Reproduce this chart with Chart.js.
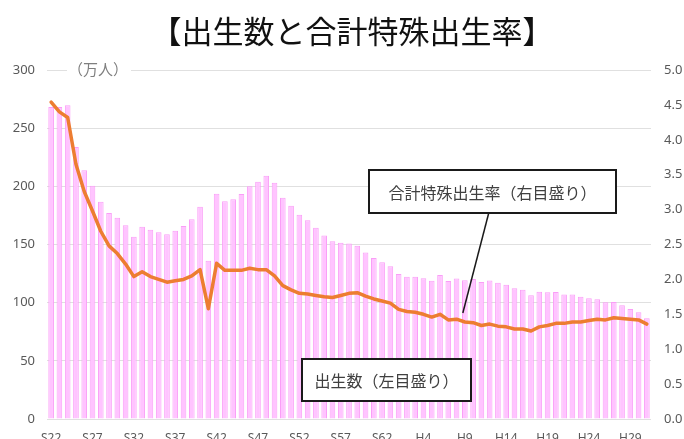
<!DOCTYPE html>
<html>
<head>
<meta charset="utf-8">
<script src="https://cdn.jsdelivr.net/npm/chart.js@4"></script>
<style>
  html, body { margin: 0; padding: 0; background: #fff; overflow: hidden; }
  canvas { display: block; }
</style>
</head>
<body>
<canvas id="birthChart" width="684" height="450"></canvas>
<script>
// 年次 (S22 = 1947 ... R1 = 2019)
const yearLabels = [
  'S22','S23','S24','S25','S26','S27','S28','S29','S30','S31',
  'S32','S33','S34','S35','S36','S37','S38','S39','S40','S41',
  'S42','S43','S44','S45','S46','S47','S48','S49','S50','S51',
  'S52','S53','S54','S55','S56','S57','S58','S59','S60','S61',
  'S62','S63','H1','H2','H3','H4','H5','H6','H7','H8',
  'H9','H10','H11','H12','H13','H14','H15','H16','H17','H18',
  'H19','H20','H21','H22','H23','H24','H25','H26','H27','H28',
  'H29','H30','R1'
];

// 出生数（万人）
const births = [
  268.2, 268.2, 269.7, 233.8, 213.8, 200.5, 186.8, 177.0, 173.1, 166.5,
  156.7, 165.3, 162.6, 160.6, 158.9, 161.9, 166.0, 171.7, 182.4, 136.1,
  193.6, 187.2, 188.9, 193.4, 200.1, 203.9, 209.2, 203.0, 190.1, 183.3,
  175.5, 170.9, 164.3, 157.7, 152.9, 151.5, 150.9, 149.0, 143.2, 138.3,
  134.7, 131.4, 124.7, 122.2, 122.3, 120.9, 118.8, 123.8, 118.7, 120.7,
  119.2, 120.3, 117.8, 119.1, 117.1, 115.4, 112.4, 111.1, 106.3, 109.3,
  109.0, 109.1, 107.0, 107.1, 105.1, 103.7, 103.0, 100.4, 100.6, 97.7,
  94.6, 91.8, 86.5
];

// 合計特殊出生率
const fertility = [
  4.54, 4.40, 4.32, 3.65, 3.26, 2.98, 2.69, 2.48, 2.37, 2.22,
  2.04, 2.11, 2.04, 2.00, 1.96, 1.98, 2.00, 2.05, 2.14, 1.58,
  2.23, 2.13, 2.13, 2.13, 2.16, 2.14, 2.14, 2.05, 1.91, 1.85,
  1.80, 1.79, 1.77, 1.75, 1.74, 1.77, 1.80, 1.81, 1.76, 1.72,
  1.69, 1.66, 1.57, 1.54, 1.53, 1.50, 1.46, 1.50, 1.42, 1.43,
  1.39, 1.38, 1.34, 1.36, 1.33, 1.32, 1.29, 1.29, 1.26, 1.32,
  1.34, 1.37, 1.37, 1.39, 1.39, 1.41, 1.43, 1.42, 1.45, 1.44,
  1.43, 1.42, 1.36
];

const titleText = '【出生数と合計特殊出生率】';
const unitText = '（万人）';
const rateNote = '合計特殊出生率（右目盛り）';
const birthNote = '出生数（左目盛り）';

const jpFont = '"Noto Sans CJK JP", "Noto Sans", sans-serif';
const tickColor = '#595959';

function drawBox(ctx, x, y, w, h, text) {
  ctx.save();
  ctx.fillStyle = '#fff';
  ctx.fillRect(x, y, w, h);
  ctx.lineWidth = 2;
  ctx.strokeStyle = '#1a1a1a';
  ctx.strokeRect(x, y, w, h);
  ctx.fillStyle = '#404040';
  ctx.font = '16px ' + jpFont;
  ctx.textAlign = 'center';
  ctx.textBaseline = 'middle';
  ctx.fillText(text, x + w / 2, y + h / 2 + 1);
  ctx.restore();
}

const notesPlugin = {
  id: 'notes',
  afterDraw(chart) {
    const ctx = chart.ctx;
    const area = chart.chartArea;
    const xs = chart.scales.x;
    const yr = chart.scales.yRate;

    // title
    ctx.save();
    ctx.fillStyle = '#111';
    ctx.font = '31px ' + jpFont;
    ctx.textAlign = 'center';
    ctx.textBaseline = 'middle';
    ctx.fillText(titleText, 352, 31);

    // unit label over the top gridline
    ctx.font = '15px ' + jpFont;
    const uw = ctx.measureText(unitText).width;
    ctx.fillStyle = '#fff';
    ctx.fillRect(area.left + 20, area.top - 9, uw + 4, 18);
    ctx.fillStyle = '#7f7f7f';
    ctx.textAlign = 'left';
    ctx.fillText(unitText, area.left + 21, area.top - 1);
    ctx.restore();

    // pointer from the rate note to the H9 point
    const tipIdx = yearLabels.indexOf('H9');
    const tipX = xs.getPixelForValue(tipIdx) - 2;
    const tipY = yr.getPixelForValue(fertility[tipIdx]) - 9;
    ctx.save();
    ctx.strokeStyle = '#1a1a1a';
    ctx.lineWidth = 1.5;
    ctx.beginPath();
    ctx.moveTo(489, 212);
    ctx.lineTo(tipX, tipY);
    ctx.stroke();
    ctx.restore();

    drawBox(ctx, 369, 170, 247, 43, rateNote);
    drawBox(ctx, 302, 359, 169, 42, birthNote);
  }
};

const ctx = document.getElementById('birthChart').getContext('2d');

const birthChart = new Chart(ctx, {
  data: {
    labels: yearLabels,
    datasets: [
      {
        type: 'line',
        label: '合計特殊出生率',
        data: fertility,
        yAxisID: 'yRate',
        borderColor: '#ED7D31',
        borderWidth: 3.5,
        borderJoinStyle: 'round',
        borderCapStyle: 'round',
        pointRadius: 0,
        tension: 0,
        fill: false,
        order: 0
      },
      {
        type: 'bar',
        label: '出生数',
        data: births,
        yAxisID: 'yBirth',
        backgroundColor: '#FFC4FF',
        borderColor: '#FA9EF7',
        borderWidth: 1,
        categoryPercentage: 1,
        barPercentage: 0.68,
        order: 1
      }
    ]
  },
  options: {
    responsive: false,
    animation: false,
    layout: { padding: { top: 70, left: 0, right: 0, bottom: 0 } },
    plugins: {
      legend: { display: false },
      title: { display: false },
      tooltip: { enabled: false }
    },
    scales: {
      x: {
        grid: { display: false, drawTicks: false },
        border: { display: false },
        ticks: {
          autoSkip: false,
          maxRotation: 0,
          padding: 12,
          color: tickColor,
          font: { size: 12, family: '"Noto Sans", sans-serif' },
          callback: (v, i) => (i % 5 === 0 ? yearLabels[i] : '')
        },
        afterFit: (scale) => { scale.height = 31; }
      },
      yBirth: {
        position: 'left',
        min: 0,
        max: 300,
        ticks: {
          stepSize: 50,
          padding: 12,
          color: tickColor,
          font: { size: 13, family: '"Noto Sans", sans-serif' }
        },
        grid: { color: '#e0e0e0', lineWidth: 1, drawTicks: false },
        border: { display: false },
        afterFit: (scale) => { scale.width = 47; }
      },
      yRate: {
        position: 'right',
        min: 0,
        max: 5,
        ticks: {
          stepSize: 0.5,
          padding: 13,
          color: tickColor,
          font: { size: 13, family: '"Noto Sans", sans-serif' },
          callback: (v) => Number(v).toFixed(1)
        },
        grid: { display: false, drawTicks: false },
        border: { display: false },
        afterFit: (scale) => { scale.width = 33; }
      }
    }
  },
  plugins: [notesPlugin]
});
</script>
</body>
</html>
